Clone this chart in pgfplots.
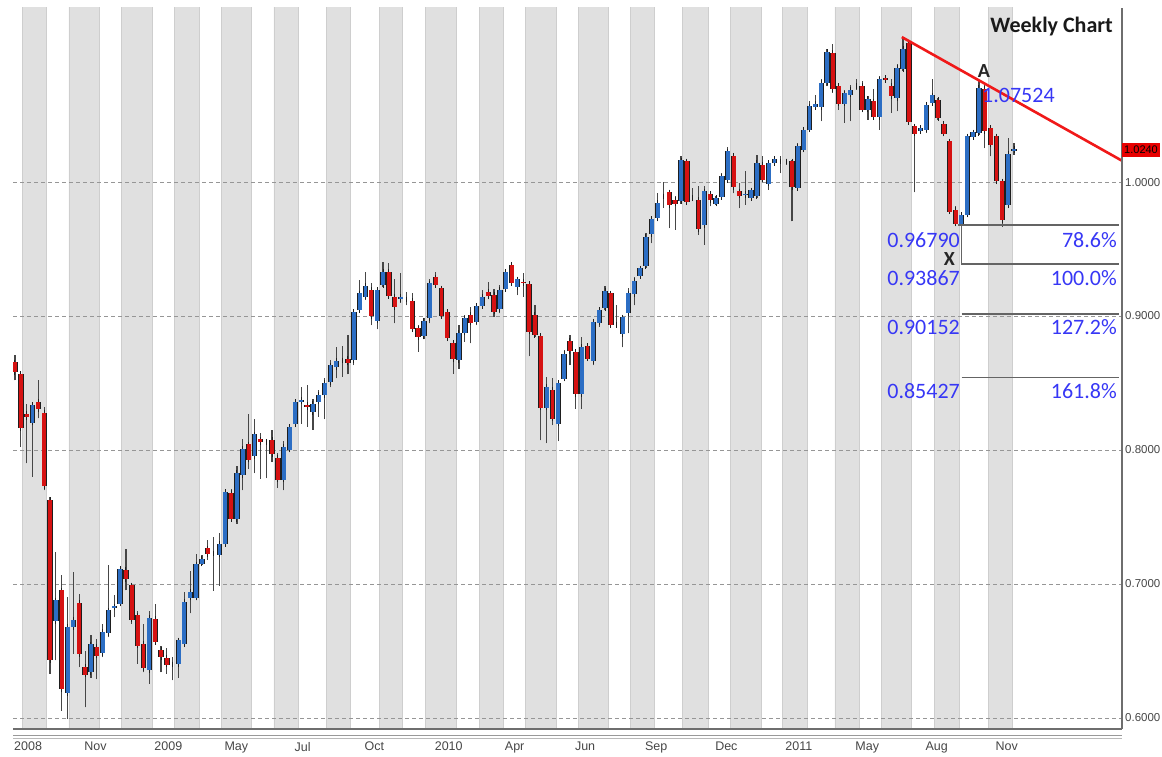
\documentclass[border=0pt]{standalone}
\usepackage{fontspec}
\setmainfont{Liberation Sans}
\newfontfamily\calibri{Carlito}
\usepackage{pgfplots}
\usepackage{pgfplotstable}
\pgfplotsset{compat=1.18}

\definecolor{band}{RGB}{224,224,224}
\definecolor{bandedge}{RGB}{206,206,206}
\definecolor{cblue}{RGB}{44,110,196}
\definecolor{cred}{RGB}{214,18,18}
\definecolor{wick}{RGB}{70,70,70}
\definecolor{outl}{RGB}{30,30,30}
\definecolor{gridc}{RGB}{150,150,150}
\definecolor{fibblue}{RGB}{55,55,245}
\definecolor{fibgray}{RGB}{100,100,100}
\definecolor{trend}{RGB}{240,25,25}
\definecolor{axisgray}{RGB}{110,110,110}
\definecolor{labgray}{RGB}{70,70,70}
\definecolor{boxred}{RGB}{232,0,0}

\pgfplotsset{nomark/.style={only marks, mark=*, mark size=0pt,
  mark options={draw=none, fill=none}, forget plot}}

% weekly candles: index, open, high, low, close
\pgfplotstableread{
i o h l c
0 0.8654 0.8710 0.8520 0.8580
1 0.8569 0.8580 0.8025 0.8162
2 0.8270 0.8340 0.7900 0.8245
3 0.8204 0.8350 0.7800 0.8337
4 0.8360 0.8520 0.8237 0.8304
5 0.8280 0.8320 0.7700 0.7730
6 0.7626 0.7650 0.6330 0.6434
7 0.6723 0.7239 0.6430 0.6878
8 0.6953 0.7065 0.6055 0.6217
9 0.6185 0.6900 0.5993 0.6678
10 0.6678 0.7090 0.6480 0.6733
11 0.6858 0.6928 0.6380 0.6479
12 0.6380 0.6500 0.6080 0.6324
13 0.6342 0.6616 0.6300 0.6549
14 0.6529 0.6590 0.6290 0.6466
15 0.6484 0.6703 0.6454 0.6641
16 0.6633 0.7140 0.6603 0.6803
17 0.6823 0.6920 0.6753 0.6833
18 0.6853 0.7127 0.6840 0.7115
19 0.7107 0.7264 0.6953 0.7035
20 0.6990 0.7010 0.6703 0.6733
21 0.6766 0.6800 0.6404 0.6541
22 0.6554 0.6703 0.6340 0.6374
23 0.6359 0.6800 0.6254 0.6748
24 0.6741 0.6853 0.6550 0.6566
25 0.6509 0.6540 0.6340 0.6454
26 0.6449 0.6525 0.6330 0.6399
27 0.6400 0.6455 0.6280 0.6400
28 0.6400 0.6600 0.6300 0.6579
29 0.6549 0.6940 0.6530 0.6865
30 0.6898 0.7100 0.6780 0.6940
31 0.6898 0.7227 0.6880 0.7147
32 0.7152 0.7215 0.7140 0.7190
33 0.7267 0.7330 0.7180 0.7224
34 0.7226 0.7350 0.6950 0.7226
35 0.7220 0.7380 0.6988 0.7300
36 0.7300 0.7700 0.7295 0.7686
37 0.7680 0.7710 0.7470 0.7486
38 0.7486 0.7878 0.7450 0.7828
39 0.7810 0.8085 0.7698 0.8010
40 0.8042 0.8267 0.7860 0.7928
41 0.7953 0.8234 0.7828 0.8117
42 0.8080 0.8127 0.7786 0.8060
43 0.8060 0.8075 0.7790 0.8060
44 0.8077 0.8152 0.7910 0.7968
45 0.7943 0.7980 0.7718 0.7778
46 0.7778 0.8070 0.7698 0.8022
47 0.8002 0.8197 0.7997 0.8172
48 0.8192 0.8370 0.8185 0.8359
49 0.8360 0.8470 0.8197 0.8372
50 0.8339 0.8484 0.8172 0.8320
51 0.8284 0.8380 0.8150 0.8347
52 0.8360 0.8446 0.8247 0.8410
53 0.8410 0.8534 0.8230 0.8501
54 0.8509 0.8670 0.8470 0.8633
55 0.8621 0.8770 0.8534 0.8666
56 0.8670 0.8780 0.8546 0.8670
57 0.8683 0.8858 0.8566 0.8653
58 0.8670 0.9045 0.8633 0.9032
59 0.9045 0.9270 0.9032 0.9170
60 0.9145 0.9330 0.9120 0.9224
61 0.9195 0.9245 0.8933 0.9000
62 0.8965 0.9220 0.8900 0.9195
63 0.9232 0.9406 0.9220 0.9332
64 0.9330 0.9395 0.9145 0.9150
65 0.9145 0.9280 0.8945 0.9065
66 0.9125 0.9320 0.9100 0.9145
67 0.9125 0.9180 0.9080 0.9125
68 0.9115 0.9170 0.8883 0.8900
69 0.8908 0.8933 0.8733 0.8840
70 0.8850 0.8983 0.8825 0.8963
71 0.8983 0.9274 0.8945 0.9244
72 0.9289 0.9330 0.9220 0.9232
73 0.9207 0.9220 0.8983 0.9000
74 0.9032 0.9045 0.8825 0.8833
75 0.8800 0.8815 0.8570 0.8676
76 0.8671 0.8933 0.8608 0.8875
77 0.8875 0.9007 0.8808 0.8983
78 0.9007 0.9070 0.8796 0.8950
79 0.8958 0.9095 0.8933 0.9075
80 0.9075 0.9194 0.9057 0.9145
81 0.9182 0.9257 0.9125 0.9150
82 0.9157 0.9200 0.8995 0.9032
83 0.9050 0.9232 0.9020 0.9195
84 0.9200 0.9344 0.9190 0.9332
85 0.9382 0.9394 0.9230 0.9244
86 0.9214 0.9294 0.9157 0.9274
87 0.9257 0.9320 0.9145 0.9244
88 0.9239 0.9257 0.8700 0.8883
89 0.9007 0.9082 0.8845 0.8858
90 0.8850 0.8870 0.8072 0.8317
91 0.8317 0.8546 0.8052 0.8471
92 0.8451 0.8534 0.8185 0.8234
93 0.8197 0.8516 0.8067 0.8501
94 0.8533 0.8746 0.8520 0.8720
95 0.8815 0.8858 0.8633 0.8740
96 0.8733 0.8746 0.8309 0.8417
97 0.8417 0.8845 0.8309 0.8770
98 0.8775 0.8795 0.8670 0.8683
99 0.8663 0.8970 0.8633 0.8958
100 0.8950 0.9070 0.8920 0.9045
101 0.9057 0.9224 0.9045 0.9187
102 0.9170 0.9180 0.8920 0.8932
103 0.8933 0.9082 0.8920 0.8933
104 0.8865 0.9007 0.8766 0.8990
105 0.9020 0.9207 0.8870 0.9170
106 0.9165 0.9294 0.9080 0.9264
107 0.9300 0.9374 0.9282 0.9357
108 0.9374 0.9618 0.9357 0.9593
109 0.9613 0.9748 0.9544 0.9723
110 0.9730 0.9918 0.9706 0.9843
111 0.9893 0.9998 0.9810 0.9893
112 0.9923 0.9943 0.9656 0.9830
113 0.9868 0.9893 0.9643 0.9838
114 0.9855 1.0197 0.9838 1.0162
115 1.0155 1.0172 0.9838 0.9848
116 0.9880 0.9955 0.9855 0.9880
117 0.9868 0.9968 0.9606 0.9648
118 0.9680 0.9968 0.9531 0.9930
119 0.9913 0.9930 0.9818 0.9863
120 0.9838 0.9893 0.9830 0.9880
121 0.9888 1.0067 0.9880 1.0042
122 1.0012 1.0260 1.0005 1.0230
123 1.0197 1.0217 0.9918 0.9963
124 0.9930 0.9993 0.9806 0.9898
125 0.9903 1.0080 0.9830 0.9913
126 0.9880 0.9955 0.9873 0.9938
127 0.9893 1.0204 0.9880 1.0142
128 1.0130 1.0192 1.0005 1.0017
129 0.9988 1.0155 0.9943 1.0142
130 1.0142 1.0192 1.0130 1.0172
131 1.0155 1.0192 1.0067 1.0155
132 1.0155 1.0160 1.0130 1.0155
133 1.0155 1.0167 0.9706 0.9963
134 0.9955 1.0290 0.9943 1.0267
135 1.0242 1.0404 1.0230 1.0392
136 1.0392 1.0603 1.0380 1.0566
137 1.0559 1.0653 1.0541 1.0586
138 1.0561 1.0766 1.0454 1.0741
139 1.0741 1.0990 1.0716 1.0970
140 1.0965 1.1027 1.0666 1.0691
141 1.0716 1.0741 1.0541 1.0586
142 1.0586 1.0690 1.0441 1.0661
143 1.0653 1.0728 1.0454 1.0690
144 1.0716 1.0766 1.0690 1.0716
145 1.0716 1.0753 1.0529 1.0541
146 1.0541 1.0641 1.0466 1.0621
147 1.0603 1.0691 1.0466 1.0486
148 1.0486 1.0790 1.0392 1.0766
149 1.0778 1.0790 1.0740 1.0761
150 1.0716 1.0766 1.0516 1.0641
151 1.0628 1.0878 1.0529 1.0853
152 1.0840 1.1065 1.0828 1.0995
153 1.1035 1.1052 1.0429 1.0446
154 1.0416 1.0436 0.9923 1.0362
155 1.0379 1.0429 1.0367 1.0404
156 1.0392 1.0591 1.0367 1.0578
157 1.0591 1.0766 1.0578 1.0646
158 1.0611 1.0628 1.0466 1.0479
159 1.0434 1.0441 1.0342 1.0362
160 1.0304 1.0317 0.9773 0.9780
161 0.9793 0.9818 0.9679 0.9690
162 0.9690 0.9768 0.9679 0.9756
163 0.9756 1.0354 0.9748 1.0342
164 1.0337 1.0391 1.0330 1.0372
165 1.0367 1.0752 1.0354 1.0703
166 1.0696 1.0741 1.0254 1.0379
167 1.0404 1.0416 1.0192 1.0279
168 1.0342 1.0354 0.9988 1.0005
169 1.0005 1.0017 0.9668 0.9718
170 0.9830 1.0329 0.9806 1.0212
171 1.0237 1.0292 1.0205 1.0247
}\candles

\begin{document}
\begin{tikzpicture}
\begin{axis}[
  at={(0,0)}, anchor=south west,
  scale only axis, width=1109bp, height=721bp,
  xmin=-0.342, xmax=189.49, ymin=0.5918, ymax=1.1299,
  set layers, clip mode=individual,
  axis line style={draw=none},
  major tick length=0pt,
  ytick={0.6,0.7,0.8,0.9,1.0},
  yticklabels={0.6000,0.7000,0.8000,0.9000,1.0000},
  ytick pos=right, yticklabel pos=right,
  yticklabel style={anchor=west, inner sep=0pt, xshift=3bp,
    font=\fontsize{11.5bp}{13bp}\selectfont, text=labgray},
  xtick={0,12,...,168},
  xticklabels={2008,Nov,2009,May,Jul,Oct,2010,Apr,Jun,Sep,Dec,2011,May,Aug,Nov},
  xticklabel style={anchor=north west, inner sep=0pt, yshift=-13bp, xshift=-1bp,
    font=\fontsize{12.5bp}{14bp}\selectfont, text=labgray},
  ymajorgrids,
  grid style={gridc, line width=1bp, dash pattern=on 3.5bp off 3.5bp},
]
% alternate month shading
\addplot[ybar interval, fill=band, draw=bandedge, line width=0.8bp,
  on layer=axis background, forget plot] coordinates {
  (1.25,2) (5.43,0) (9.24,2) (14.43,0) (18.26,2) (23.50,0) (27.27,2) (31.50,0)
  (35.27,2) (40.52,0) (44.33,2) (48.44,0) (53.36,2) (57.46,0) (62.31,2) (66.36,0)
  (70.30,2) (75.61,0) (79.48,2) (83.58,0) (87.42,2) (92.61,0) (96.42,2) (101.56,0)
  (105.39,2) (109.38,0) (114.29,2) (118.67,0) (122.51,2) (127.70,0) (131.41,2) (135.62,0)
  (140.36,2) (144.52,0) (148.36,2) (153.49,0) (157.31,2) (161.59,0) (166.60,2) (170.71,0)};

% wicks
\addplot[nomark,
  error bars/.cd, y dir=plus, y explicit, error mark=none,
  error bar style={wick, line width=1.15bp}]
  table[x=i, y=l, y error expr=\thisrow{h}-\thisrow{l}] {\candles};
% body outlines
\addplot[nomark,
  error bars/.cd, y dir=both, y explicit, error mark=-,
  error mark options={outl, line width=1bp, mark size=2.7bp},
  error bar style={outl, line width=5.4bp}]
  table[x=i, y expr={0.5*(\thisrow{o}+\thisrow{c})},
        y error expr={abs(\thisrow{c}-\thisrow{o})/2}] {\candles};
% rising bodies
\addplot[nomark, restrict y to domain=0:2,
  error bars/.cd, y dir=both, y explicit, error mark=none,
  error bar style={cblue, line width=3.9bp}]
  table[x=i, y expr={\thisrow{c}<\thisrow{o} ? -5 : 0.5*(\thisrow{o}+\thisrow{c})},
        y error expr={abs(\thisrow{c}-\thisrow{o})/2}] {\candles};
% falling bodies
\addplot[nomark, restrict y to domain=0:2,
  error bars/.cd, y dir=both, y explicit, error mark=none,
  error bar style={cred, line width=3.9bp}]
  table[x=i, y expr={\thisrow{c}<\thisrow{o} ? 0.5*(\thisrow{o}+\thisrow{c}) : -5},
        y error expr={abs(\thisrow{c}-\thisrow{o})/2}] {\candles};

% trend line
\addplot[trend, line width=2.6bp, forget plot] coordinates {(151.8,1.1082) (189.49,1.0159)};
% extension levels
\addplot[fibgray, line width=1.5bp, forget plot] coordinates {(161.4,0.96790) (188.98,0.96790)};
\addplot[fibgray, line width=1.5bp, forget plot] coordinates {(162.05,0.96790) (162.05,0.93867) (188.98,0.93867)};
\addplot[fibgray, line width=1.5bp, forget plot] coordinates {(162.05,0.90152) (188.98,0.90152)};
\addplot[fibgray, line width=1.5bp, forget plot] coordinates {(162.05,0.85427) (188.98,0.85427)};

% axis frame pieces
\draw[axisgray, line width=1.8bp] (rel axis cs:0,0) -- (rel axis cs:1,0);
\draw[axisgray, line width=1.5bp] (rel axis cs:1,0) -- (rel axis cs:1,1);
\draw[gray!80, line width=1.2bp] ([yshift=-6.5bp]rel axis cs:0,0) -- ([yshift=-6.5bp]rel axis cs:1,0);
\draw[gray!55, line width=1.2bp] ([yshift=-9.5bp]rel axis cs:0,0) -- ([yshift=-9.5bp]rel axis cs:1,0);

% labels
\begin{scope}[every node/.style={inner sep=0pt, font=\calibri\fontsize{22bp}{26bp}\selectfont}]
\node[anchor=base east, text=black!90, font=\calibri\bfseries\fontsize{22bp}{26bp}\selectfont]
  at (axis cs:187.95,1.1119) {Weekly Chart};
\node[text=black!85, font=\calibri\bfseries\fontsize{20bp}{24bp}\selectfont] at (axis cs:165.87,1.0828) {A};
\node[text=black!85, font=\calibri\bfseries\fontsize{20bp}{24bp}\selectfont] at (axis cs:159.93,0.9425) {X};
\node[anchor=west, text=fibblue] at (axis cs:165.53,1.0646) {1.07524};
\node[anchor=east, text=fibblue] at (axis cs:161.76,0.9567) {0.96790};
\node[anchor=east, text=fibblue] at (axis cs:188.63,0.9567) {78.6\%};
\node[anchor=east, text=fibblue] at (axis cs:161.76,0.9280) {0.93867};
\node[anchor=east, text=fibblue] at (axis cs:188.63,0.9280) {100.0\%};
\node[anchor=east, text=fibblue] at (axis cs:161.76,0.8914) {0.90152};
\node[anchor=east, text=fibblue] at (axis cs:188.63,0.8914) {127.2\%};
\node[anchor=east, text=fibblue] at (axis cs:161.76,0.8443) {0.85427};
\node[anchor=east, text=fibblue] at (axis cs:188.63,0.8443) {161.8\%};
\end{scope}
\node[anchor=west, fill=boxred, text=black, inner xsep=2bp, inner ysep=0pt,
  minimum height=14bp, font=\fontsize{11bp}{12bp}\selectfont]
  at (axis cs:189.49,1.0240) {1.0240};
\end{axis}
\pgfresetboundingbox
\path[use as bounding box] (-13bp,-28bp) rectangle (1149bp,729bp);
\end{tikzpicture}
\end{document}
